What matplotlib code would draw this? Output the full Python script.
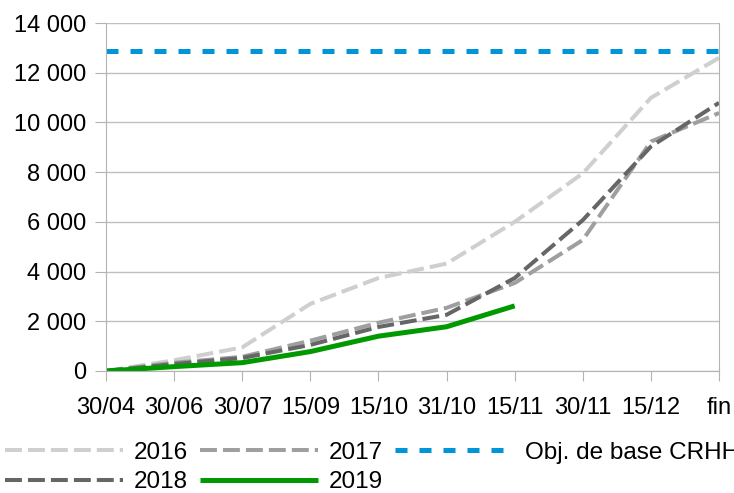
import matplotlib.pyplot as plt
from matplotlib.ticker import FuncFormatter

plt.rcParams['font.family'] = ['Liberation Sans', 'DejaVu Sans']

dates = ['30/04', '30/06', '30/07', '15/09', '15/10', '31/10', '15/11', '30/11', '15/12', 'fin']

y2016 = [0, 430, 950, 2700, 3740, 4320, 6000, 7950, 10990, 12600]
y2017 = [0, 330, 570, 1220, 1940, 2540, 3540, 5270, 9230, 10380]
y2018 = [0, 280, 520, 1050, 1770, 2260, 3740, 6070, 9030, 10790]
y2019 = [0, 175, 335, 780, 1400, 1780, 2620]
objectif = 12880

x = list(range(len(dates)))

fig = plt.figure(figsize=(7.34, 4.93), dpi=100)
ax = fig.add_axes([0.1444, 0.2475, 0.8352, 0.7058])

l16, = ax.plot(x, y2016, color='#cfcfcf', lw=2.9, dashes=(4.2, 1.5), label='2016')
l17, = ax.plot(x, y2017, color='#9f9f9f', lw=2.9, dashes=(4.2, 1.5), label='2017')
l18, = ax.plot(x, y2018, color='#666666', lw=2.9, dashes=(4.2, 1.5), label='2018')
l19, = ax.plot(x[:len(y2019)], y2019, color='#009900', lw=3.6, label='2019',
               solid_capstyle='butt')
lobj = ax.axhline(objectif, color='#0095d9', lw=3.6, dashes=(2.4, 2.4),
                  label='Obj. de base CRHH')

ax.set_xlim(0, len(dates) - 1)
ax.set_ylim(0, 14000)
ax.set_yticks(range(0, 14001, 2000))
ax.yaxis.set_major_formatter(FuncFormatter(lambda v, p: f'{int(v):,}'.replace(',', ' ')))
ax.set_xticks(x)
ax.set_xticklabels(dates)
ax.grid(axis='y', color='#c0c0c0', lw=1)
ax.set_axisbelow(True)
ax.tick_params(axis='x', length=7, color='#b3b3b3', labelsize=17, pad=12)
ax.tick_params(axis='y', length=8, color='#b3b3b3', labelsize=17, pad=6)
for s in ['left', 'right', 'bottom']:
    ax.spines[s].set_color('#b3b3b3')
ax.spines['top'].set_visible(False)

fig.legend([l16, l18, l17, l19, lobj], ['2016', '2018', '2017', '2019', 'Obj. de base CRHH'],
           ncol=3, loc='lower left', bbox_to_anchor=(-0.020, -0.040), frameon=False,
           fontsize=17.5, handlelength=4.86, handletextpad=0.45, columnspacing=0.5,
           labelspacing=0.3, borderpad=0.3)

fig.savefig('out.png', dpi=100)
